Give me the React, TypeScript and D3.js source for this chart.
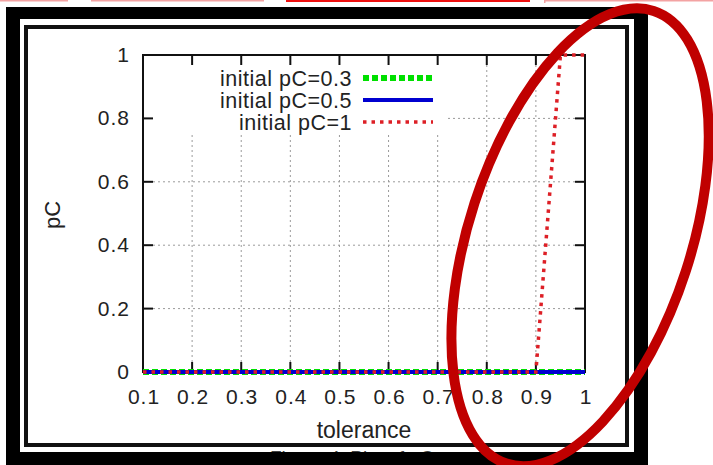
import React from "react";
import * as d3 from "d3";

// Sampled tolerance values and the final fraction of cooperators for each start value
const tolerance = [0.1, 0.15, 0.2, 0.25, 0.3, 0.35, 0.4, 0.45, 0.5, 0.55, 0.6, 0.65, 0.7, 0.75, 0.8, 0.85, 0.9, 0.95, 1.0];
const pC03 = [0, 0, 0, 0, 0, 0, 0, 0, 0, 0, 0, 0, 0, 0, 0, 0, 0, 0, 0];
const pC05 = [0, 0, 0, 0, 0, 0, 0, 0, 0, 0, 0, 0, 0, 0, 0, 0, 0, 0, 0];
const pC1 = [0, 0, 0, 0, 0, 0, 0, 0, 0, 0, 0, 0, 0, 0, 0, 0, 0, 1, 1];

const xTicks = [0.1, 0.2, 0.3, 0.4, 0.5, 0.6, 0.7, 0.8, 0.9, 1];
const yTicks = [0, 0.2, 0.4, 0.6, 0.8, 1];
const legendLabels = ["initial pC=0.3", "initial pC=0.5", "initial pC=1"];

const FONT = "'Liberation Sans', Arial, Helvetica, sans-serif";

const series = [
  { label: legendLabels[0], values: pC03, color: "#00e000", width: 6, dash: "6 3" },
  { label: legendLabels[1], values: pC05, color: "#0000d0", width: 4, dash: null },
  { label: legendLabels[2], values: pC1, color: "#dd1f26", width: 3.5, dash: "3.5 5" },
];

export default function App() {
  const W = 713;
  const H = 465;
  const plot = { left: 143, right: 585, top: 55, bottom: 372 };

  const x = d3.scaleLinear().domain([0.1, 1]).range([plot.left, plot.right]);
  const y = d3.scaleLinear().domain([0, 1]).range([plot.bottom, plot.top]);

  const lineFor = (vals: number[]) =>
    d3
      .line<number>()
      .x((_, i) => x(tolerance[i]))
      .y((v) => y(v))(vals) as string;

  const tickLen = 10;
  const fmt = (v: number) => String(v);

  // Legend box (opaque) in the upper left of the plot
  const legendRight = 445;
  const legendBottom = 134;
  const legendTextX = 352;
  const legendSampleX0 = 363;
  const legendSampleX1 = 433;
  const legendRowY = [78, 100, 122];

  // Highlight ellipse centred in data space
  const ellCx = x(0.99);
  const ellCy = y(0.425);

  return (
    <svg
      width={W}
      height={H}
      viewBox={`0 0 ${W} ${H}`}
      style={{ position: "absolute", left: 0, top: 0, background: "#fff" }}
    >
      <defs>
        <clipPath id="captionClip">
          <rect x={20} y={447} width={614} height={5} />
        </clipPath>
      </defs>

      {/* bits of the boxes above the figure */}
      <rect x={0} y={0} width={68} height={1.5} fill="#f3a3a3" />
      <rect x={91} y={0} width={173} height={1.5} fill="#f3a3a3" />
      <rect x={286} y={0} width={244} height={2} fill="#ee1010" />
      <rect x={544} y={0} width={169} height={1.5} fill="#f3a3a3" />
      <rect x={544} y={0} width={1.5} height={3} fill="#f3a3a3" />

      {/* heavy outer frame */}
      <rect x={6} y={7} width={642} height={470} fill="#000" />
      <rect x={20} y={19} width={614} height={433} fill="#fff" />
      <rect x={26} y={27} width={601} height={418} fill="none" stroke="#111" strokeWidth={4} />

      {/* caption, mostly hidden under the frame */}
      <text
        x={270}
        y={464}
        fontFamily={FONT}
        fontSize={19}
        fill="#444"
        clipPath="url(#captionClip)"
      >
        Figure 4: Plot of pC
      </text>

      {/* grid */}
      <g stroke="#9a9a9a" strokeWidth={1} strokeDasharray="2 3">
        {xTicks.slice(1, -1).map((t) => (
          <line key={`gx${t}`} x1={x(t)} x2={x(t)} y1={plot.top + tickLen} y2={plot.bottom - tickLen} />
        ))}
        {yTicks.slice(1, -1).map((t) => (
          <line key={`gy${t}`} x1={plot.left + tickLen} x2={plot.right - tickLen} y1={y(t)} y2={y(t)} />
        ))}
      </g>

      {/* legend background */}
      <rect
        x={plot.left + 1}
        y={plot.top + 1}
        width={legendRight - plot.left - 1}
        height={legendBottom - plot.top - 1}
        fill="#fff"
      />

      {/* border and mirrored ticks */}
      <rect
        x={plot.left}
        y={plot.top}
        width={plot.right - plot.left}
        height={plot.bottom - plot.top}
        fill="none"
        stroke="#111"
        strokeWidth={2}
      />
      <g stroke="#111" strokeWidth={2}>
        {xTicks.map((t) => (
          <g key={`tx${t}`}>
            <line x1={x(t)} x2={x(t)} y1={plot.bottom} y2={plot.bottom - tickLen} />
            <line x1={x(t)} x2={x(t)} y1={plot.top} y2={plot.top + tickLen} />
          </g>
        ))}
        {yTicks.map((t) => (
          <g key={`ty${t}`}>
            <line x1={plot.left} x2={plot.left + tickLen} y1={y(t)} y2={y(t)} />
            <line x1={plot.right} x2={plot.right - tickLen} y1={y(t)} y2={y(t)} />
          </g>
        ))}
      </g>

      {/* tick labels */}
      <g fontFamily={FONT} fontSize={21} fill="#222" letterSpacing={1}>
        {xTicks.map((t) => (
          <text key={`lx${t}`} x={x(t) + 1} y={404} textAnchor="middle">
            {fmt(t)}
          </text>
        ))}
        {yTicks.map((t) => (
          <text key={`ly${t}`} x={130} y={y(t) + 7} textAnchor="end">
            {fmt(t)}
          </text>
        ))}
      </g>

      {/* axis titles */}
      <text x={(plot.left + plot.right) / 2} y={438} textAnchor="middle" fontFamily={FONT} fontSize={23} fill="#222">
        tolerance
      </text>
      <text
        transform={`translate(52, 215) rotate(-90)`}
        textAnchor="middle"
        dy="0.35em"
        fontFamily={FONT}
        fontSize={22}
        fill="#222"
      >
        pC
      </text>

      {/* data lines */}
      {series.map((s) => (
        <path
          key={s.label}
          d={lineFor(s.values)}
          fill="none"
          stroke={s.color}
          strokeWidth={s.width}
          strokeDasharray={s.dash ?? undefined}
        />
      ))}

      {/* legend entries */}
      {series.map((s, i) => (
        <g key={`leg${i}`}>
          <text
            x={legendTextX}
            y={legendRowY[i] + 8}
            textAnchor="end"
            fontFamily={FONT}
            fontSize={21.5}
            letterSpacing={0.5}
            fill="#222"
          >
            {s.label}
          </text>
          <line
            x1={legendSampleX0}
            x2={legendSampleX1}
            y1={legendRowY[i]}
            y2={legendRowY[i]}
            stroke={s.color}
            strokeWidth={s.width}
            strokeDasharray={s.dash ?? undefined}
          />
        </g>
      ))}

      {/* highlight ellipse */}
      <ellipse
        cx={ellCx}
        cy={ellCy}
        rx={111}
        ry={238}
        transform={`rotate(18, ${ellCx}, ${ellCy})`}
        fill="none"
        stroke="#c00000"
        strokeWidth={10}
      />
    </svg>
  );
}
